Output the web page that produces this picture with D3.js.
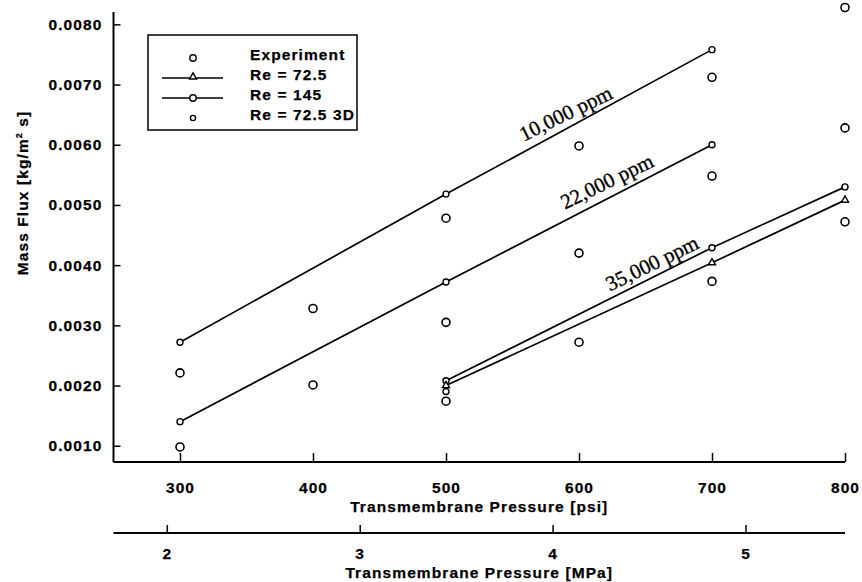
<!DOCTYPE html>
<html>
<head>
<meta charset="utf-8">
<script src="https://cdn.jsdelivr.net/npm/d3@7"></script>
<style>
  html, body { margin: 0; padding: 0; background: #fff; }
  svg { display: block; }
  .lbl { font-family: "Liberation Sans", Arial, sans-serif; font-weight: bold; font-size: 15.5px; letter-spacing: 1.1px; fill: #000; stroke: #000; stroke-width: 0.25px; }
  .ann { font-family: "Liberation Serif", "Times New Roman", serif; font-size: 21px; fill: #000; stroke: #000; stroke-width: 0.35px; }
</style>
</head>
<body>
<svg id="chart" width="862" height="582"></svg>
<script>
// Axis ticks
const psiTicks = [300, 400, 500, 600, 700, 800];
const fluxTicks = [0.0010, 0.0020, 0.0030, 0.0040, 0.0050, 0.0060, 0.0070, 0.0080];
const mpaTicks = [2, 3, 4, 5];

// Experimental measurements
const expPsi  = [300, 300, 400, 400, 500, 500, 500, 600, 600, 600, 700, 700, 700, 800, 800, 800];
const expFlux = [0.00221, 0.00098, 0.00328, 0.00201, 0.00478, 0.00305, 0.00174, 0.00598, 0.00420, 0.00272,
                 0.00712, 0.00548, 0.00373, 0.00828, 0.00628, 0.00472];

// Simulation curves (Re = 145)
const re145Psi10k  = [300, 500, 700];
const re145Flux10k = [0.00272, 0.00518, 0.00758];
const re145Psi22k  = [300, 500, 700];
const re145Flux22k = [0.00140, 0.00372, 0.00600];
const re145Psi35k  = [500, 700, 800];
const re145Flux35k = [0.00208, 0.00429, 0.00530];

// Simulation curve (Re = 72.5)
const re72Psi35k  = [500, 700, 800];
const re72Flux35k = [0.00200, 0.00404, 0.00508];

// 3D simulation (Re = 72.5)
const re72_3dPsi  = [500];
const re72_3dFlux = [0.00190];

// Concentration labels: text, anchor pressure, anchor flux
const annText = ["10,000 ppm", "22,000 ppm", "35,000 ppm"];
const annPsi  = [590, 621, 655];
const annFlux = [0.00652, 0.00539, 0.00403];

const legendLabels = ["Experiment", "Re = 72.5", "Re = 145", "Re = 72.5 3D"];

const PSI_PER_MPA = 145.038;

const svg = d3.select("#chart");

const x = d3.scaleLinear().domain([250, 800]).range([113.5, 845]);
const y = d3.scaleLinear().domain([0.00073, 0.008205]).range([462, 12]);
const xm = d3.scaleLinear().domain([250 / PSI_PER_MPA, 800 / PSI_PER_MPA]).range([113.5, 845]);

const fmt = d3.format(".4f");

function styleAxis(g) {
  g.selectAll(".domain").remove();
  g.selectAll("line").attr("stroke", "#000").attr("stroke-width", 1.5);
  g.selectAll("text").attr("class", "lbl").attr("font-size", null).attr("font-family", null);
}

// ---- Y axis ----
const yMinor = d3.range(0.0008, 0.00821, 0.0002);
const gy = svg.append("g").attr("transform", `translate(${x(250)},0)`);
gy.call(d3.axisLeft(y).tickValues(yMinor).tickSize(-4).tickFormat(""));
gy.call(d3.axisLeft(y).tickValues(fluxTicks).tickSize(-7).tickPadding(11).tickFormat(fmt));
styleAxis(gy);
svg.append("line").attr("x1", x(250)).attr("x2", x(250)).attr("y1", y.range()[1]).attr("y2", y.range()[0])
  .attr("stroke", "#000").attr("stroke-width", 2);

// ---- X axis (psi) ----
const xMinor = d3.range(260, 800, 20);
const gx = svg.append("g").attr("transform", `translate(0,${y.range()[0]})`);
gx.call(d3.axisBottom(x).tickValues(xMinor).tickSize(-3).tickFormat(""));
gx.call(d3.axisBottom(x).tickValues(psiTicks).tickSize(-9).tickPadding(20).tickFormat(d3.format("d")));
styleAxis(gx);
svg.append("line").attr("x1", x.range()[0]).attr("x2", x.range()[1]).attr("y1", y.range()[0]).attr("y2", y.range()[0])
  .attr("stroke", "#000").attr("stroke-width", 2);

svg.append("text").attr("class", "lbl").attr("x", (x.range()[0] + x.range()[1]) / 2).attr("y", 512)
  .attr("text-anchor", "middle").text("Transmembrane Pressure [psi]");

// ---- Secondary X axis (MPa) ----
const mpaY = 533;
const mMinor = d3.range(1.8, 5.5, 0.2);
const gm = svg.append("g").attr("transform", `translate(0,${mpaY})`);
gm.call(d3.axisBottom(xm).tickValues(mMinor).tickSize(-2).tickFormat(""));
gm.call(d3.axisBottom(xm).tickValues(mpaTicks).tickSize(-8).tickPadding(15).tickFormat(d3.format("d")));
styleAxis(gm);
svg.append("line").attr("x1", xm.range()[0]).attr("x2", xm.range()[1]).attr("y1", mpaY).attr("y2", mpaY)
  .attr("stroke", "#000").attr("stroke-width", 2);

svg.append("text").attr("class", "lbl").attr("x", (xm.range()[0] + xm.range()[1]) / 2).attr("y", 578)
  .attr("text-anchor", "middle").text("Transmembrane Pressure [MPa]");

// ---- Y title ----
const yt = svg.append("text").attr("class", "lbl")
  .attr("transform", "translate(28,193) rotate(-90)").attr("text-anchor", "middle");
yt.append("tspan").text("Mass Flux [kg/m");
yt.append("tspan").attr("font-size", "9px").attr("dy", -6).text("2");
yt.append("tspan").attr("dy", 6).text(" s]");

// ---- Curves ----
const line = d3.line().x(d => x(d[0])).y(d => y(d[1]));
const zip = (a, b) => a.map((v, i) => [v, b[i]]);

const curves145 = [zip(re145Psi10k, re145Flux10k), zip(re145Psi22k, re145Flux22k), zip(re145Psi35k, re145Flux35k)];
const curves72 = [zip(re72Psi35k, re72Flux35k)];

const gc = svg.append("g");
gc.selectAll("path.c145").data(curves145).join("path").attr("class", "c145")
  .attr("d", line).attr("fill", "none").attr("stroke", "#000").attr("stroke-width", 1.7);
gc.selectAll("path.c72").data(curves72).join("path").attr("class", "c72")
  .attr("d", line).attr("fill", "none").attr("stroke", "#000").attr("stroke-width", 1.7);

const tri = d3.symbol().type(d3.symbolTriangle).size(22);

gc.selectAll("circle.m145").data(curves145.flat()).join("circle").attr("class", "m145")
  .attr("cx", d => x(d[0])).attr("cy", d => y(d[1])).attr("r", 3)
  .attr("fill", "#fff").attr("stroke", "#000").attr("stroke-width", 1.4);
gc.selectAll("path.m72").data(curves72.flat()).join("path").attr("class", "m72")
  .attr("transform", d => `translate(${x(d[0])},${y(d[1])})`).attr("d", tri)
  .attr("fill", "#fff").attr("stroke", "#000").attr("stroke-width", 1.4);

// ---- 3D point ----
gc.selectAll("circle.m3d").data(zip(re72_3dPsi, re72_3dFlux)).join("circle").attr("class", "m3d")
  .attr("cx", d => x(d[0])).attr("cy", d => y(d[1])).attr("r", 3)
  .attr("fill", "#fff").attr("stroke", "#000").attr("stroke-width", 1.4);

// ---- Experiment points ----
gc.selectAll("circle.exp").data(zip(expPsi, expFlux)).join("circle").attr("class", "exp")
  .attr("cx", d => x(d[0])).attr("cy", d => y(d[1])).attr("r", 4)
  .attr("fill", "#fff").attr("stroke", "#000").attr("stroke-width", 1.6);

// ---- Concentration labels ----
svg.selectAll("text.ann").data(annText).join("text").attr("class", "ann")
  .attr("text-anchor", "middle").attr("dominant-baseline", "central")
  .attr("transform", (d, i) => `translate(${x(annPsi[i])},${y(annFlux[i])}) rotate(-26)`)
  .text(d => d);

// ---- Legend ----
const lg = svg.append("g");
lg.append("rect").attr("x", 148).attr("y", 35).attr("width", 209).attr("height", 95)
  .attr("fill", "#fff").attr("stroke", "#000").attr("stroke-width", 1.5);
const rowY = i => 58 + i * 20;
lg.selectAll("text").data(legendLabels).join("text").attr("class", "lbl")
  .attr("x", 250).attr("y", (d, i) => rowY(i) + 2).text(d => d);
lg.append("circle").attr("cx", 193).attr("cy", rowY(0)).attr("r", 3.2)
  .attr("fill", "#fff").attr("stroke", "#000").attr("stroke-width", 1.4);
[1, 2].forEach(i => lg.append("line").attr("x1", 162).attr("x2", 223).attr("y1", rowY(i)).attr("y2", rowY(i))
  .attr("stroke", "#000").attr("stroke-width", 1.6));
lg.append("path").attr("transform", `translate(193,${rowY(1) - 1})`).attr("d", tri)
  .attr("fill", "#fff").attr("stroke", "#000").attr("stroke-width", 1.4);
lg.append("circle").attr("cx", 193).attr("cy", rowY(2)).attr("r", 3.2)
  .attr("fill", "#fff").attr("stroke", "#000").attr("stroke-width", 1.4);
lg.append("circle").attr("cx", 193).attr("cy", rowY(3)).attr("r", 2.6)
  .attr("fill", "#fff").attr("stroke", "#000").attr("stroke-width", 1.4);
</script>
</body>
</html>
